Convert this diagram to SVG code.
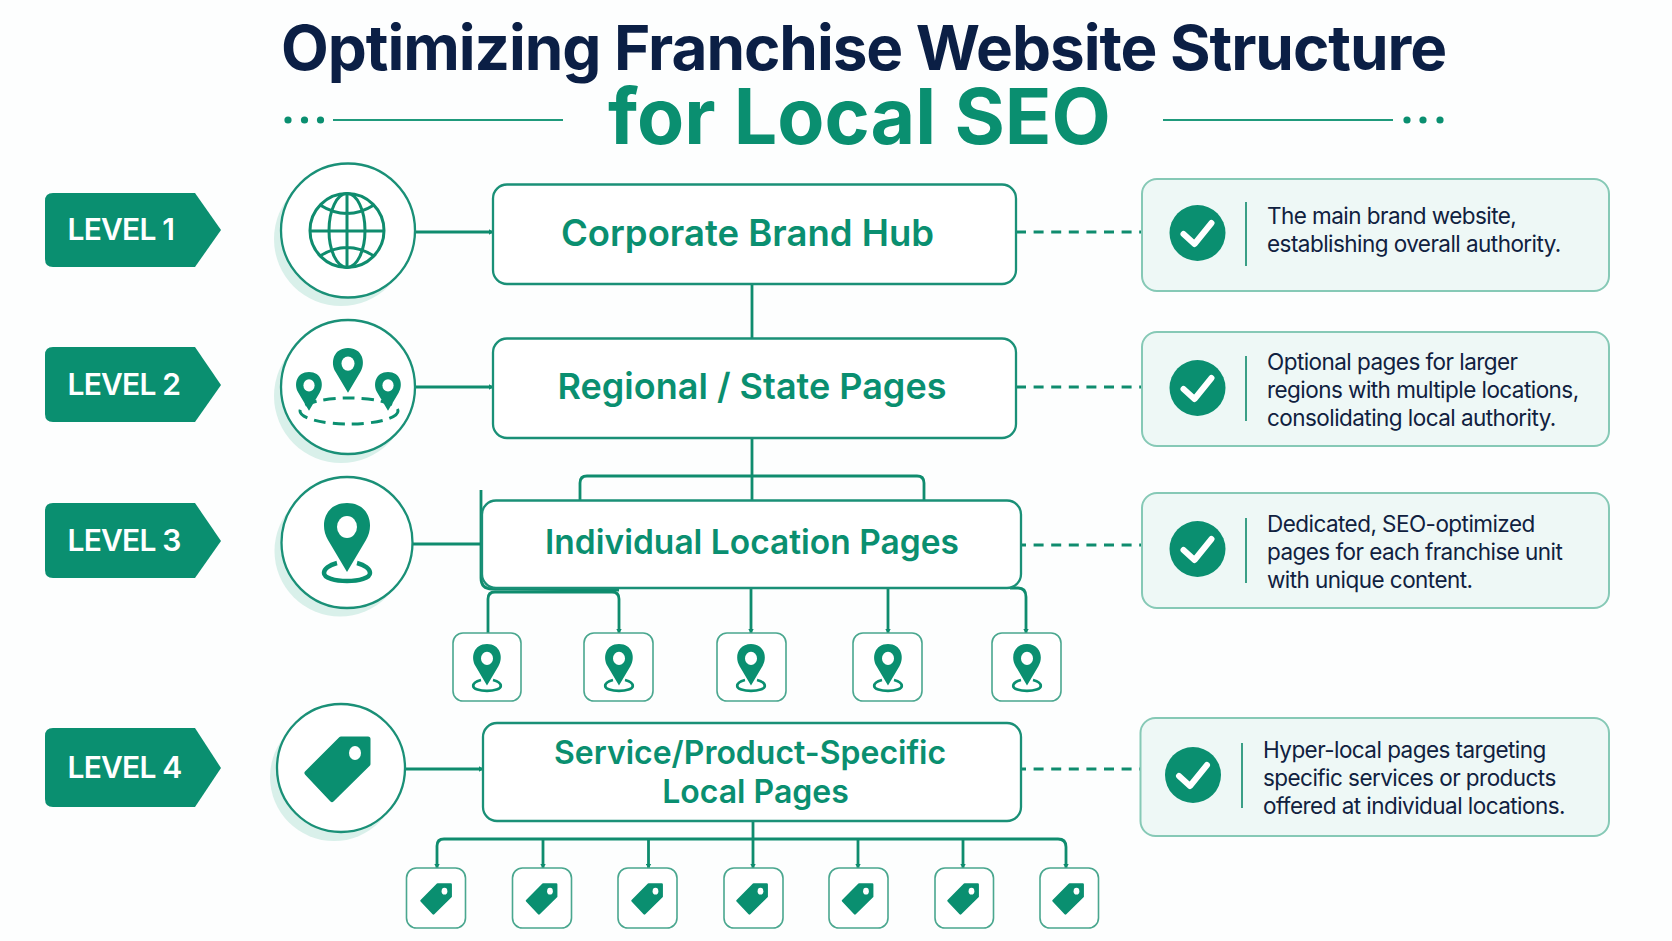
<svg xmlns="http://www.w3.org/2000/svg" xmlns:xlink="http://www.w3.org/1999/xlink" width="1672" height="941" viewBox="0 0 1672 941">
<style>
text{font-family:Inter,"Liberation Sans",sans-serif}
.t1{font-size:62px;font-weight:700;fill:#0b1f45;letter-spacing:-1.05px}
.t2{font-size:77px;font-weight:700;fill:#0a8f70}
.lv{font-size:30px;font-weight:600;fill:#fff;letter-spacing:-.8px}
.nt{font-weight:600;fill:#0a8f70;text-anchor:middle}
.it{font-size:22.5px;font-weight:400;fill:#10213f;letter-spacing:-.55px}
.box{fill:#fff;stroke:#1a9077;stroke-width:2.3}
.circ{fill:#fff;stroke:#1a9077;stroke-width:2.3}
.sh{fill:#d9f0ea}
.kid{fill:#fff;stroke:#4aa78f;stroke-width:1.6}
.card{fill:#eef8f6;stroke:#86c9b6;stroke-width:2}
.g{fill:#0a8f70}
.c{fill:none;stroke:#0f8c6e;stroke-width:2.8;stroke-linejoin:round}
.d{fill:none;stroke:#0f8c6e;stroke-width:3.2;stroke-dasharray:10 7.6}
.div{stroke:#3a9f86;stroke-width:2}
.chk{fill:none;stroke:#fff;stroke-width:6;stroke-linecap:round;stroke-linejoin:round}
.gl{fill:none;stroke:#0f8c6e;stroke-width:3}
</style>
<defs>
<marker id="a" markerWidth="5" markerHeight="6" refX="4.500" refY="3" orient="auto" markerUnits="userSpaceOnUse"><path d="M0 0L5 3L0 6Z" fill="#0f8c6e"/></marker>
<g id="pin"><path class="g" d="M0 69L-19 37C-28 22-22 0 0 0C22 0 28 22 19 37Z"/><ellipse cx="0" cy="24" rx="10" ry="11" fill="#fff"/></g>
<g id="pinr"><use xlink:href="#pin"/><path d="M-10 60C-18 62-23 66-23 70C-23 75-12 78 0 78C12 78 23 75 23 70C23 66 18 62 10 60" fill="none" stroke="#0a8f70" stroke-width="4.500"/></g>
<g id="tag"><path class="g" stroke="#0a8f70" stroke-width="5" stroke-linejoin="round" d="M37 3L64 3L64 28L28 63.500L3 37Z"/><ellipse cx="51" cy="17" rx="6" ry="7" fill="#fff"/></g>
<g id="chk"><circle r="28" class="g"/><path class="chk" d="M-14 1L-3 11L14 -10" /></g>
</defs>
<rect width="1672" height="941" fill="#fdfefe"/>
<g id="title">
<text class="t1" x="281" y="70">Optimizing Franchise Website Structure</text>
<text class="t2" x="608" y="144">for Local SEO</text>
<g class="g"><circle cx="288" cy="120" r="3.600"/><circle cx="304.500" cy="120" r="3.600"/><circle cx="320.500" cy="120" r="3.600"/><circle cx="1407" cy="120" r="3.600"/><circle cx="1423" cy="120" r="3.600"/><circle cx="1440" cy="120" r="3.600"/></g>
<path d="M333 120H563M1163 120H1393" stroke="#1f9a7c" stroke-width="2"/>
</g>
<g id="connectors">
<path class="c" marker-end="url(#a)" d="M414 232H493"/>
<path class="c" marker-end="url(#a)" d="M414 387H493"/>
<path class="c" d="M413 544H481"/>
<path class="c" marker-end="url(#a)" d="M405 769H483"/>
<path class="c" d="M752 284V338M752 438V500"/>
<path class="c" d="M580 500V483Q580 476 587 476H917Q924 476 924 483V500"/>
<path class="c" d="M481 490V578Q481 589 492 589L619 590"/>
<path class="c" marker-end="url(#a)" d="M488 633V599Q488 592 495 592H612Q619 592 619 599V633"/>
<path class="c" marker-end="url(#a)" d="M751 588V633"/>
<path class="c" marker-end="url(#a)" d="M888 588V633"/>
<path class="c" marker-end="url(#a)" d="M1010 588H1018Q1026 588 1026 597V633"/>
<path class="c" marker-end="url(#a)" d="M753 821V868"/>
<path class="c" d="M444 839H1058"/>
<path class="c" marker-end="url(#a)" d="M444 839Q437 839 437 846V868"/>
<path class="c" marker-end="url(#a)" d="M1058 839Q1066 839 1066 847V868"/>
<path class="c" marker-end="url(#a)" d="M543 839V868"/>
<path class="c" marker-end="url(#a)" d="M648.500 839V868"/>
<path class="c" marker-end="url(#a)" d="M858 839V868"/>
<path class="c" marker-end="url(#a)" d="M963 839V868"/>
<path class="d" d="M1016 232H1143M1016 387H1143M1016 545H1143M1016 769H1142"/>
</g>
<g id="level1-badge"><path class="g" d="M53 193H195L221 230L195 267H53Q45 267 45 259V201Q45 193 53 193Z"/><text class="lv" x="67.500" y="240">LEVEL 1</text></g>
<g id="level2-badge"><path class="g" d="M53 347H195L221 385L195 422H53Q45 422 45 414V355Q45 347 53 347Z"/><text class="lv" x="67.500" y="395">LEVEL 2</text></g>
<g id="level3-badge"><path class="g" d="M53 503H195L221 541L195 578H53Q45 578 45 570V511Q45 503 53 503Z"/><text class="lv" x="67.500" y="551">LEVEL 3</text></g>
<g id="level4-badge"><path class="g" d="M53 728H195L221 768L195 807H53Q45 807 45 799V736Q45 728 53 728Z"/><text class="lv" x="67.500" y="778">LEVEL 4</text></g>
<g id="globe-icon"><circle class="sh" cx="341" cy="239" r="67"/><circle class="circ" cx="348" cy="230.500" r="67"/>
<g class="gl"><circle cx="347" cy="230.500" r="37"/><ellipse cx="347" cy="230.500" rx="18" ry="37"/><path d="M347 193V268M310 231H384M320 205Q347 222 374 205M320 256Q347 239 374 256"/></g></g>
<g id="pins-icon"><circle class="sh" cx="341" cy="396" r="67"/><circle class="circ" cx="348" cy="387" r="67"/>
<ellipse cx="349" cy="411" rx="49" ry="13" fill="none" stroke="#0a8f70" stroke-width="3" stroke-dasharray="12 7"/>
<use xlink:href="#pin" transform="translate(348 348) scale(.65)"/><use xlink:href="#pin" transform="translate(309 372) scale(.56)"/><use xlink:href="#pin" transform="translate(388 372) scale(.56)"/></g>
<g id="pin-icon"><circle class="sh" cx="340" cy="551" r="65.500"/><circle class="circ" cx="347" cy="542.500" r="65.500"/><use xlink:href="#pinr" transform="translate(347 503)"/></g>
<g id="tag-icon"><circle class="sh" cx="334" cy="777" r="64"/><circle class="circ" cx="341" cy="768" r="64"/><use xlink:href="#tag" transform="translate(304 736)"/></g>
<g id="corporate-hub"><rect class="box" x="493" y="184.500" width="523" height="99.500" rx="14"/><text class="nt" font-size="36.500" x="747.500" y="245.500">Corporate Brand Hub</text></g>
<g id="regional-pages"><rect class="box" x="493" y="338.500" width="523" height="99.500" rx="14"/><text class="nt" font-size="36" x="752" y="398.500">Regional / State Pages</text></g>
<g id="location-pages"><rect class="box" x="482" y="500.500" width="539" height="87.500" rx="14"/><text class="nt" font-size="33.500" x="752" y="553.500">Individual Location Pages</text></g>
<g id="service-pages"><rect class="box" x="483" y="723" width="538" height="98" rx="14"/><text class="nt" font-size="32" x="750" y="763.500">Service/Product-Specific</text><text class="nt" font-size="32" x="755.500" y="802.500">Local Pages</text></g>
<g id="loc-1"><rect class="kid" x="453" y="633" width="68" height="68" rx="10"/><use xlink:href="#pinr" transform="translate(487 644) scale(.6)"/></g>
<g id="loc-2"><rect class="kid" x="584" y="633" width="69" height="68" rx="10"/><use xlink:href="#pinr" transform="translate(619 644) scale(.6)"/></g>
<g id="loc-3"><rect class="kid" x="717" y="633" width="69" height="68" rx="10"/><use xlink:href="#pinr" transform="translate(751 644) scale(.6)"/></g>
<g id="loc-4"><rect class="kid" x="853" y="633" width="69" height="68" rx="10"/><use xlink:href="#pinr" transform="translate(888 644) scale(.6)"/></g>
<g id="loc-5"><rect class="kid" x="992" y="633" width="69" height="68" rx="10"/><use xlink:href="#pinr" transform="translate(1027 644) scale(.6)"/></g>
<g id="svc-1"><rect class="kid" x="406.500" y="868" width="59" height="60" rx="10"/><use xlink:href="#tag" transform="translate(420 883) scale(.48)"/></g>
<g id="svc-2"><rect class="kid" x="512.500" y="868" width="59" height="60" rx="10"/><use xlink:href="#tag" transform="translate(525.500 883) scale(.48)"/></g>
<g id="svc-3"><rect class="kid" x="618" y="868" width="59" height="60" rx="10"/><use xlink:href="#tag" transform="translate(631 883) scale(.48)"/></g>
<g id="svc-4"><rect class="kid" x="724" y="868" width="59" height="60" rx="10"/><use xlink:href="#tag" transform="translate(736 883) scale(.48)"/></g>
<g id="svc-5"><rect class="kid" x="829" y="868" width="59" height="60" rx="10"/><use xlink:href="#tag" transform="translate(841.500 883) scale(.48)"/></g>
<g id="svc-6"><rect class="kid" x="935" y="868" width="58.500" height="60" rx="10"/><use xlink:href="#tag" transform="translate(947 883) scale(.48)"/></g>
<g id="svc-7"><rect class="kid" x="1040" y="868" width="58.500" height="60" rx="10"/><use xlink:href="#tag" transform="translate(1052 883) scale(.48)"/></g>
<g id="info-1"><rect class="card" x="1142" y="179" width="467" height="112" rx="15"/><use xlink:href="#chk" transform="translate(1197.500 233)"/><path class="div" d="M1246 202V266"/><text class="it" x="1267" y="224">The main brand website,</text><text class="it" x="1267" y="252">establishing overall authority.</text></g>
<g id="info-2"><rect class="card" x="1142" y="332" width="467" height="114" rx="15"/><use xlink:href="#chk" transform="translate(1197.500 388)"/><path class="div" d="M1246 356V421"/><text class="it" x="1267" y="370">Optional pages for larger</text><text class="it" x="1267" y="398">regions with multiple locations,</text><text class="it" x="1267" y="426">consolidating local authority.</text></g>
<g id="info-3"><rect class="card" x="1142" y="493" width="467" height="115" rx="15"/><use xlink:href="#chk" transform="translate(1197.500 549)"/><path class="div" d="M1246 518V583"/><text class="it" x="1267" y="532">Dedicated, SEO-optimized</text><text class="it" x="1267" y="560">pages for each franchise unit</text><text class="it" x="1267" y="588">with unique content.</text></g>
<g id="info-4"><rect class="card" x="1140.500" y="718" width="468.500" height="118" rx="15"/><use xlink:href="#chk" transform="translate(1193 775)"/><path class="div" d="M1242 743V808"/><text class="it" x="1263" y="758">Hyper-local pages targeting</text><text class="it" x="1263" y="786">specific services or products</text><text class="it" x="1263" y="814">offered at individual locations.</text></g>
</svg>
